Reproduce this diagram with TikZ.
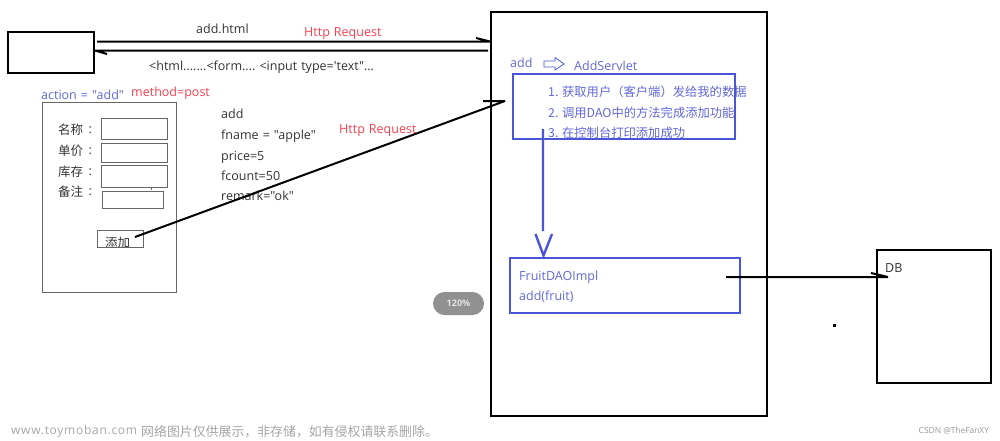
\documentclass[tikz,border=0pt]{standalone}
\usepackage{fontspec}
\newfontfamily\latf[WordSpace=1.25]{Open Sans}
\setmainfont{Open Sans}
\newfontfamily\cjk{Noto Sans CJK SC}
\definecolor{bl}{HTML}{4A55D8}
\definecolor{blt}{HTML}{6268D8}
\definecolor{rd}{HTML}{F8404F}
\definecolor{txt}{HTML}{333333}
\definecolor{frm}{HTML}{666666}
\tikzset{
  box/.style={draw=black,line width=2pt,inner sep=0pt,outer sep=0pt,anchor=north west},
  bbox/.style={draw=bl,line width=2.3pt,inner sep=0pt,outer sep=0pt,anchor=north west},
  fld/.style={draw=frm,line width=1pt,inner sep=0pt,outer sep=0pt,anchor=north west},
  tx/.style={inner sep=0pt,anchor=base west,text=txt,font=\fontsize{12.5}{14}\selectfont\latf},
  rx/.style={tx,text=rd},
  ux/.style={tx,text=blt},
  cn/.style={inner sep=0pt,anchor=west,text=txt,font=\fontsize{12.5}{14}\selectfont\cjk},
  un/.style={cn,text=blt,font=\fontsize{12.3}{14}\selectfont\cjk},
  ln/.style={draw=black,line width=2pt},
  bln/.style={draw=bl,line width=2.4pt},
}
\begin{document}
\begin{tikzpicture}[x=1pt,y=-1pt]
\useasboundingbox (0,0) rectangle (1000,440);
\fill[white] (0,0) rectangle (1000,440);
% large boxes
\node[box,minimum width=86pt,minimum height=41pt] (browser) at (8,32) {};
\node[box,minimum width=276pt,minimum height=404pt] (server) at (491,12) {};
\node[box,minimum width=114pt,minimum height=133pt] (db) at (877,250) {};
\node[fld,minimum width=134pt,minimum height=190pt] (form) at (42,102) {};
\node[fld,minimum width=66pt,minimum height=21pt] (f1) at (101,118) {};
\node[fld,minimum width=66pt,minimum height=19pt] (f2) at (101,143) {};
\node[fld,minimum width=66pt,minimum height=22pt] (f3) at (101,165) {};
\node[fld,minimum width=61pt,minimum height=17pt] (f4) at (102,191) {};
\draw[frm,line width=0.8pt] (f3.south) ++(17,0) -- ++(0,3);
% coordinates for the connectors
\coordinate (reqS) at (97,41.5);
\coordinate (reqE) at (490,41.5);
\coordinate (reqB) at (476,38);
\coordinate (resS) at (488,50.5);
\coordinate (resE) at (95,50.5);
\coordinate (resB) at (107,54);
\coordinate (postS) at (135,237);
\coordinate (postE) at (505,101);
\coordinate (postB) at (483,101);
\coordinate (dS) at (543,129);
\coordinate (dM) at (543,231);
\coordinate (dE) at (543.5,255.5);
\coordinate (dB1) at (535.5,234);
\coordinate (dB2) at (552,234);
\coordinate (dbS) at (726,277);
\coordinate (dbE) at (888,277);
\coordinate (dbB) at (871,273);
% texts
\node[tx] (t1) at (196,33.7) {add.html};
\node[rx] (t2) at (304,36) {Http Request};
\node[tx] (t3) at (149,70) {<html.......<form....\ <input type='text"...};
\node[ux] (t4) at (41,99.7) {action = "add"};
\node[rx] (t5) at (131,96.7) {method=post};
\node[tx] (t6) at (221,118.3) {add};
\node[tx] (t7) at (221,139) {fname = "apple"};
\node[tx] (t8) at (221,160) {price=5};
\node[tx] (t9) at (221,180) {fcount=50};
\node[tx] (t10) at (221,200.7) {remark="ok"};
\node[rx] (t11) at (339,133) {Http Request};
\node[cn] (c1) at (58,130) {名称};
\node[cn] (c2) at (58,151) {单价};
\node[cn] (c3) at (58,171.5) {库存};
\node[cn] (c4) at (58,192) {备注};
\node[tx] (c1c) at (88.5,133.5) {:};
\node[tx] (c2c) at (88.5,154.5) {:};
\node[tx] (c3c) at (88.5,175) {:};
\node[tx] (c4c) at (88.5,195.5) {:};
\node[ux] (t12) at (510,67.3) {add};
\node[ux] (t13) at (574,70) {AddServlet};
\node[un] (l1) at (548,92) {1. 获取用户（客户端）发给我的数据};
\node[un] (l2) at (548,113) {2. 调用DAO中的方法完成添加功能};
\node[un] (l3) at (548,133) {3. 在控制台打印添加成功};
\node[ux] (t14) at (519,280) {FruitDAOImpl};
\node[ux] (t15) at (519,300.7) {add(fruit)};
\node[tx] (t16) at (885,272.7) {DB};
% submit button, its text cut by the lower edge
\begin{scope}
\clip (97,229) rectangle (143,247);
\node[cn] (c5) at (105,243) {添加};
\end{scope}
\node[fld,minimum width=46pt,minimum height=17pt] (btn) at (97,230) {};
% small hollow arrow
\draw[bl,line width=0.8pt,line join=miter] (544,61) -- (555,61) -- (555,57.5) -- (564,64) -- (555,70) -- (555,67) -- (544,67) -- cycle;
% blue boxes
\node[bbox,minimum width=222pt,minimum height=65pt] (steps) at (513,74) {};
\node[bbox,minimum width=230pt,minimum height=55pt] (impl) at (510,258) {};
% connectors
\draw[ln] (reqS) -- (reqE) (reqB) -- (reqE);
\draw[ln] (resS) -- (resE) (resB) -- (resE);
\draw[ln] (postS) -- (postE) (postB) -- (postE);
\draw[bln] (dS) -- (dM) (dB1) -- (dE) -- (dB2);
\draw[ln] (dbS) -- (dbE) (dbB) -- (dbE);
% dot
\fill[black] (833,324) rectangle (835.5,326.5);
% zoom pill
\node[fill=black!43,rounded corners=11.5pt,minimum width=51pt,minimum height=23pt,inner sep=0pt,outer sep=0pt,text=white!90!black,font=\fontsize{9}{11}\selectfont\bfseries] (pill) at (458.5,303.5) {120\%};
% watermarks
\node[inner sep=0pt,anchor=west,text=black!35,font=\fontsize{12}{14}\selectfont] (w1) at (11,431.5) {\addfontfeature{LetterSpace=6}www.toymoban.com};
\node[inner sep=0pt,anchor=west,text=black!35,font=\fontsize{12.9}{14}\selectfont\cjk] (w2) at (141,431.5) {网络图片仅供展示，非存储，如有侵权请联系删除。};
\node[inner sep=0pt,anchor=west,text=black!40,font=\fontsize{8.4}{10}\selectfont] (w3) at (918.5,430.5) {CSDN @TheFanXY};
\end{tikzpicture}
\end{document}
